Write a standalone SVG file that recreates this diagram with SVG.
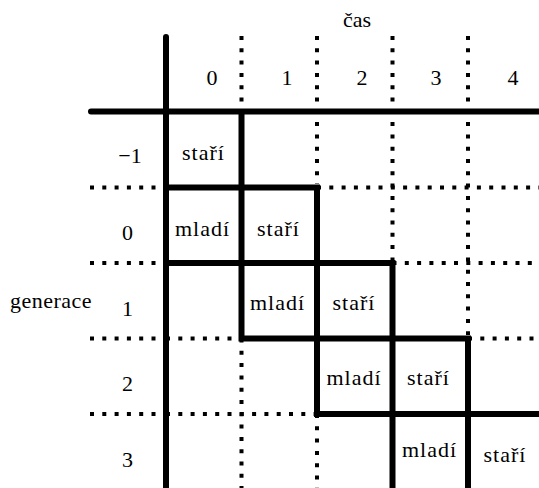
<svg xmlns="http://www.w3.org/2000/svg" width="539" height="488" viewBox="0 0 539 488">
<style>
text{font-family:"Liberation Serif","DejaVu Serif","Times New Roman",serif;font-size:22px;fill:#000;text-anchor:middle}
.w{letter-spacing:1px}
.thick{fill:none;stroke:#000;stroke-width:6;stroke-linejoin:miter}
.axis{fill:none;stroke:#000;stroke-width:6;stroke-linecap:round}
.dot{fill:none;stroke:#000;stroke-width:4;stroke-dasharray:4 8.3}
</style>
<rect width="539" height="488" fill="#fff"/>
<g id="connectors">
<g id="dotted">
<path class="dot" d="M241.5 36V108M317 36V184M392.5 36V260M468 36V335"/>
<path class="dot" d="M241.5 338.5V488M317 414V488"/>
<path class="dot" d="M90 187.5H156M90 263H156M90 338.5H156M90 414H156"/>
<path class="dot" d="M317 187.5H539M392.5 263H539M468 338.5H539"/>
<path class="dot" d="M166 338.5H241.5M166 414H317"/>
</g>
<g id="axes">
<path class="axis" d="M166 37V492"/>
<path class="axis" d="M91 111.5H545"/>
</g>
<g id="staircase">
<path class="thick" d="M241.5 111.5V338.5H468V492"/>
<path class="thick" d="M166 187.5H317V414H545"/>
<path class="thick" d="M166 263H392.5V492"/>
</g>
</g>
<g id="title-cas"><text x="357" y="27">čas</text></g>
<g id="title-generace"><text x="51" y="308" style="letter-spacing:0.5px">generace</text></g>
<g id="time-labels">
<text x="212" y="85">0</text>
<text x="287" y="85">1</text>
<text x="362" y="85">2</text>
<text x="436" y="85">3</text>
<text x="513" y="85">4</text>
</g>
<g id="generation-labels">
<text x="130" y="163">−1</text>
<text x="127.5" y="240">0</text>
<text x="127.5" y="316">1</text>
<text x="127.5" y="391">2</text>
<text x="127.5" y="467">3</text>
</g>
<g id="cell-g-1-t0"><text class="w" x="203.5" y="160">staří</text></g>
<g id="cell-g0-t0"><text class="w" x="202.5" y="236">mladí</text></g>
<g id="cell-g0-t1"><text class="w" x="278.5" y="236">staří</text></g>
<g id="cell-g1-t1"><text class="w" x="277.5" y="310">mladí</text></g>
<g id="cell-g1-t2"><text class="w" x="354" y="310">staří</text></g>
<g id="cell-g2-t2"><text class="w" x="354" y="385">mladí</text></g>
<g id="cell-g2-t3"><text class="w" x="428.5" y="385">staří</text></g>
<g id="cell-g3-t3"><text class="w" x="429.5" y="457">mladí</text></g>
<g id="cell-g3-t4"><text class="w" x="505" y="462">staří</text></g>
</svg>
